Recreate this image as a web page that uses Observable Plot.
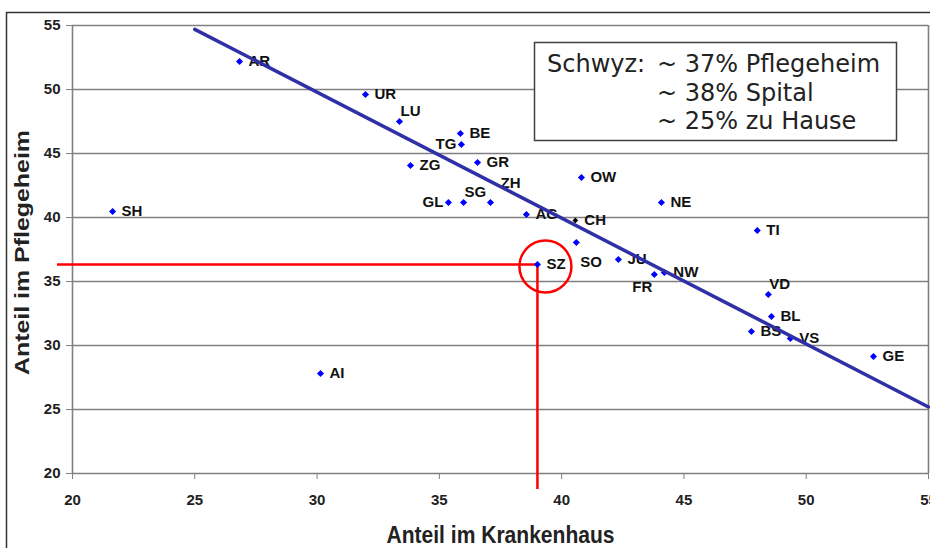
<!DOCTYPE html>
<html><head><meta charset="utf-8">
<script src="https://cdn.jsdelivr.net/npm/d3@7"></script>
<script src="https://cdn.jsdelivr.net/npm/@observablehq/plot@0.6"></script>
<style>
html,body{margin:0;padding:0;background:#fff;}
#chart{position:relative;width:930px;height:548px;overflow:hidden;}
</style></head><body><div id="chart"></div>
<script>
// Cantons (code), share in hospital (x), share in nursing home (y)
const cantons        = ["AR","UR","LU","BE","TG","ZG","GR","ZH","SG","GL","SH","OW","NE","AG","CH","SO","SZ","JU","FR","NW","TI","VD","BL","BS","VS","GE","AI"];
const hospitalShare  = [26.83,31.98,33.37,35.86,35.90,33.82,36.56,37.09,35.99,35.37,21.64,40.81,44.08,38.56,40.56,40.60,39.01,42.32,43.79,44.20,48.00,48.45,48.58,47.76,49.35,52.75,30.14];
const nursingShare   = [52.19,49.61,47.50,46.56,45.70,44.06,44.30,41.17,41.17,41.17,40.47,43.13,41.17,40.23,39.77,38.05,36.33,36.72,35.55,35.70,38.98,33.98,32.27,31.09,30.55,29.14,27.81];
const xTicks = [20,25,30,35,40,45,50,55];
const yTicks = [20,25,30,35,40,45,50,55];
const trendX = [25,55];
const trendY = [54.7,25.2];
const highlightCode = "SZ";
const totalCode = "CH";
const xTitle = "Anteil im Krankenhaus";
const yTitle = "Anteil im Pflegeheim";
const noteHead = "Schwyz:";
const noteLines = ["~ 37% Pflegeheim","~ 38% Spital","~ 25% zu Hause"];
// label side per canton (default: right)
const labelSide = {LU:"above",SG:"above",VD:"above",TG:"left",GL:"left",ZH:"aboveRight",SO:"below",FR:"belowLeft"};

const pts = cantons.map((c,i)=>({code:c,x:hospitalShare[i],y:nursingShare[i],side:labelSide[c]||"right"}));
const trend = trendX.map((x,i)=>({x,y:trendY[i]}));
const sz = pts.filter(d=>d.code===highlightCode);
const sideStyle = {
  right:{dx:9,dy:0,textAnchor:"start"},
  left:{dx:-5,dy:0,textAnchor:"end"},
  above:{dx:1,dy:-10,textAnchor:"start"},
  aboveRight:{dx:10,dy:-19,textAnchor:"start"},
  below:{dx:4,dy:20,textAnchor:"start"},
  belowLeft:{dx:-2,dy:13,textAnchor:"end"}
};
const labelMarks = Object.entries(sideStyle).map(([side,s])=>
  Plot.text(pts.filter(d=>d.side===side),{x:"x",y:"y",text:"code",...s,fontSize:15,fontWeight:"bold",fill:"#111"}));

const gray = "#808080";
const plot = Plot.plot({
  width:930, height:548,
  marginLeft:72, marginRight:2, marginTop:25, marginBottom:75,
  style:{fontFamily:"'Liberation Sans', Arial, sans-serif", background:"#fff"},
  x:{domain:[xTicks[0],xTicks[xTicks.length-1]]},
  y:{domain:[yTicks[0],yTicks[yTicks.length-1]]},
  marks:[
    Plot.gridY(yTicks,{stroke:gray,strokeOpacity:1,strokeWidth:1.6}),
    Plot.ruleX([xTicks[0]],{stroke:gray,strokeWidth:1.6}),
    Plot.ruleX([xTicks[xTicks.length-1]],{stroke:gray,strokeWidth:1.6}),
    Plot.axisY(yTicks,{tickSize:6,tickPadding:6,fontSize:15,fontWeight:"bold",stroke:gray,fill:"#222",label:null}),
    Plot.axisX(xTicks,{tickSize:6,tickPadding:15,fontSize:15,fontWeight:"bold",stroke:gray,fill:"#222",label:null}),
    Plot.ruleY(sz,{y:"y",x1:()=>xTicks[0],x2:"x",insetLeft:-15,stroke:"#ff0000",strokeWidth:2.5}),
    Plot.ruleX(sz,{x:"x",y1:"y",y2:()=>yTicks[0],insetBottom:-16,stroke:"#ff0000",strokeWidth:2.5}),
    Plot.dot(sz,{x:"x",y:"y",r:26,dx:8,dy:2,stroke:"#ff0000",strokeWidth:2.5,fill:"none"}),
    ...labelMarks,
    Plot.dot(pts.filter(d=>d.code!==totalCode),{x:"x",y:"y",symbol:"diamond2",r:3.2,fill:"#0000ff"}),
    Plot.line(trend,{x:"x",y:"y",stroke:"#3030a6",strokeWidth:3.5}),
    Plot.dot(pts.filter(d=>d.code===totalCode),{x:"x",y:"y",symbol:"diamond2",r:2.6,fill:"#000"}),
    Plot.text([yTitle],{frameAnchor:"left",dx:-50,dy:3,rotate:-90,textAnchor:"middle",lineAnchor:"middle",fontSize:21,fontWeight:"bold",fill:"#222"}),
    Plot.text([xTitle],{frameAnchor:"bottom",dy:69,textAnchor:"middle",lineAnchor:"bottom",fontSize:24,fontWeight:"bold",fill:"#222"})
  ]
});
document.getElementById("chart").appendChild(plot);

const svg = d3.select(plot);
// condensed look of the axis titles
svg.selectAll("text").filter(function(){return this.textContent===yTitle;})
  .attr("textLength",245).attr("lengthAdjust","spacingAndGlyphs");
svg.selectAll("text").filter(function(){return this.textContent===xTitle;})
  .attr("textLength",228).attr("lengthAdjust","spacingAndGlyphs");
// outer chart frame
svg.append("rect").attr("x",6.5).attr("y",12.5).attr("width",1000).attr("height",1000)
  .attr("fill","none").attr("stroke","#333").attr("stroke-width",1.5);
// note box
const note = svg.append("g");
note.append("rect").attr("x",534.5).attr("y",42.5).attr("width",362).attr("height",98)
  .attr("fill","#fff").attr("stroke","#404040").attr("stroke-width",1.5);
const nt = note.append("text").attr("font-family","'DejaVu Sans', Verdana, sans-serif")
  .attr("font-size",24).attr("fill","#222").attr("text-anchor","start");
nt.append("tspan").attr("x",547).attr("y",72).text(noteHead);
noteLines.forEach((l,i)=>nt.append("tspan").attr("x",657).attr("y",72+28.5*i).text(l));
</script></body></html>
